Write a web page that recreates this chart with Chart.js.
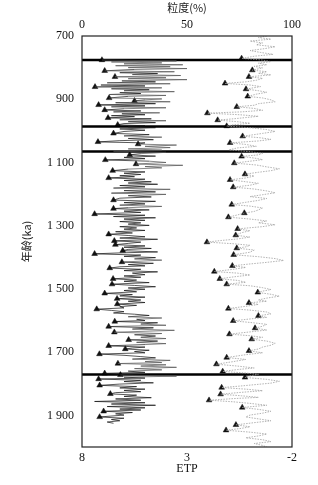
<!DOCTYPE html>
<html>
<head>
<meta charset="utf-8">
<title>粒度 / ETP</title>
<script src="https://cdn.jsdelivr.net/npm/chart.js@4.4.1/dist/chart.umd.min.js"></script>
<style>
  html, body { margin: 0; padding: 0; background: #fff; }
  canvas { display: block; }
</style>
</head>
<body>
<canvas id="grainChart" width="318" height="485"></canvas>
<script>
// Grain size curve (black), age in ka and percent
var blackAge = [
    776, 779, 782, 785, 788, 791, 794, 797, 800, 803,
    806, 810, 813, 816, 819, 822, 825, 829, 832, 835,
    838, 842, 845, 848, 851, 855, 858, 861, 864, 867,
    870, 873, 876, 879, 882, 885, 888, 891, 896, 899,
    902, 905, 908, 911, 914, 918, 921, 924, 927, 930,
    934, 937, 940, 943, 946, 949, 952, 955, 959, 962,
    965, 968, 971, 974, 977, 981, 984, 987, 990, 994,
    998, 1002, 1008, 1012, 1016, 1020, 1024, 1028, 1031, 1035,
    1038, 1042, 1045, 1049, 1053, 1057, 1061, 1064, 1068, 1072,
    1076, 1080, 1084, 1088, 1092, 1096, 1100, 1105, 1109, 1113,
    1117, 1121, 1126, 1130, 1134, 1138, 1142, 1145, 1149, 1153,
    1157, 1161, 1165, 1169, 1173, 1177, 1181, 1185, 1189, 1193,
    1197, 1201, 1205, 1209, 1213, 1219, 1223, 1227, 1231, 1235,
    1239, 1243, 1246, 1250, 1254, 1258, 1263, 1267, 1271, 1275,
    1279, 1283, 1287, 1291, 1295, 1299, 1303, 1307, 1311, 1315,
    1319, 1323, 1327, 1331, 1335, 1339, 1343, 1348, 1352, 1356,
    1360, 1364, 1368, 1372, 1375, 1379, 1383, 1386, 1389, 1393,
    1397, 1401, 1405, 1409, 1415, 1419, 1423, 1427, 1430, 1434,
    1438, 1442, 1446, 1450, 1455, 1459, 1463, 1468, 1472, 1476,
    1480, 1485, 1489, 1493, 1497, 1501, 1505, 1509, 1514, 1518,
    1522, 1526, 1531, 1535, 1539, 1543, 1548, 1552, 1556, 1560,
    1564, 1568, 1572, 1576, 1580, 1584, 1588, 1592, 1596, 1600,
    1603, 1607, 1611, 1615, 1619, 1623, 1627, 1631, 1637, 1641,
    1645, 1649, 1653, 1657, 1661, 1665, 1669, 1673, 1676, 1680,
    1684, 1687, 1690, 1694, 1698, 1702, 1706, 1710, 1714, 1718,
    1722, 1726, 1730, 1733, 1736, 1740, 1744, 1748, 1752, 1756,
    1760, 1764, 1767, 1772, 1776, 1779, 1782, 1785, 1789, 1793,
    1797, 1801, 1805, 1809, 1813, 1817, 1821, 1825, 1828, 1832,
    1836, 1840, 1844, 1848, 1852, 1856, 1860, 1864, 1868, 1872,
    1876, 1880, 1883, 1887, 1891, 1895, 1899, 1905, 1909, 1913,
    1917, 1921, 1925
];
var blackPct = [
    9.5, 45, 14, 38, 20, 48, 16, 42, 22, 50,
    25, 10.8, 44, 18, 36, 24, 47, 15.7, 40, 22,
    50, 19, 35, 12, 42, 9, 30, 6.2, 38, 14,
    32, 20, 44, 18, 28, 13, 40, 22, 12.9, 38,
    30, 25, 42, 16, 35, 7.9, 30, 14, 40, 20,
    10.8, 28, 15, 37, 19, 30, 14, 25, 12.4, 33,
    18, 40, 22, 35, 20, 17, 30, 22, 35, 18,
    30, 20, 15, 32, 20, 38, 22, 34, 18, 7.6,
    30, 26.7, 45, 30, 42, 22, 38, 15, 40, 28,
    22.7, 35, 20, 30, 11.1, 32, 40, 25.7, 48, 30,
    38, 22, 14.6, 30, 20, 28, 18, 25, 12.7, 30,
    20, 33, 22, 36, 18, 30, 15, 42, 20, 35,
    14, 40, 22, 33, 18, 15, 35, 20, 30, 18,
    38, 22, 15, 32, 20, 28, 6, 30, 15, 35,
    20, 30, 18, 28, 22, 32, 18, 26, 20, 30,
    16, 24, 12.7, 22, 30, 18, 36, 15.4, 28, 22,
    15.9, 30, 20, 33, 22, 19.4, 36, 18, 6, 28,
    20, 35, 25, 38, 19, 34, 22, 30, 18, 13.2,
    28, 20, 36, 24, 30, 20, 28, 14.8, 26, 20,
    32, 14.3, 25, 35, 22, 30, 20, 26, 10.8, 24,
    18, 30, 16.7, 28, 22, 30, 16.8, 26, 18, 20,
    7, 14, 20, 15, 25, 32, 22, 38, 26, 30,
    15.6, 36, 28, 40, 12.7, 34, 24, 44, 15.4, 38,
    25, 35, 28, 40, 22.2, 36, 26, 40, 30, 12.7,
    30, 24, 20.6, 32, 25, 30, 8.3, 20, 28, 35,
    24, 42, 30, 38, 17.1, 40, 28, 45, 25, 38,
    22, 30, 10.8, 18.3, 45, 20, 30, 7.9, 28, 20,
    34, 18, 8.4, 26, 18, 30, 20, 28, 16, 13.5,
    26, 20, 33, 16, 28, 6, 30, 14, 35, 12,
    30, 18, 28, 10.3, 24, 16, 20, 8.4, 20, 14,
    18, 12, 15
];

// ETP curve (grey), age in ka and ETP value
var grayAge = [
    700, 705, 710, 716, 722, 728, 734, 740, 746, 752,
    758, 764, 771, 776, 781, 786, 791, 796, 801, 808,
    813, 818, 823, 829, 834, 840, 845, 850, 855, 860,
    868, 873, 878, 884, 891, 896, 902, 908, 914, 919,
    924, 929, 935, 940, 944, 949, 954, 958, 962, 966,
    971, 976, 981, 985, 990, 996, 1002, 1008, 1012, 1017,
    1022, 1027, 1032, 1038, 1043, 1049, 1054, 1060, 1066, 1071,
    1076, 1081, 1086, 1091, 1096, 1102, 1108, 1114, 1120, 1126,
    1131, 1137, 1143, 1149, 1155, 1161, 1166, 1172, 1178, 1184,
    1190, 1196, 1202, 1208, 1214, 1220, 1226, 1233, 1238, 1244,
    1250, 1255, 1260, 1266, 1273, 1279, 1285, 1291, 1297, 1303,
    1310, 1316, 1322, 1330, 1336, 1342, 1347, 1352, 1357, 1362,
    1367, 1371, 1377, 1384, 1392, 1398, 1404, 1410, 1416, 1421,
    1427, 1432, 1438, 1445, 1450, 1456, 1462, 1468, 1473, 1479,
    1485, 1490, 1496, 1502, 1507, 1511, 1517, 1523, 1529, 1535,
    1539, 1544, 1549, 1555, 1562, 1567, 1573, 1579, 1585, 1590,
    1595, 1601, 1606, 1612, 1618, 1624, 1630, 1636, 1643, 1648,
    1653, 1659, 1665, 1672, 1678, 1684, 1690, 1696, 1702, 1708,
    1712, 1717, 1723, 1730, 1738, 1744, 1750, 1755, 1761, 1766,
    1770, 1775, 1780, 1786, 1792, 1798, 1803, 1808, 1812, 1817,
    1822, 1827, 1833, 1838, 1843, 1847, 1852, 1857, 1862, 1868,
    1875, 1881, 1887, 1893, 1899, 1905, 1911, 1917, 1923, 1930,
    1936, 1941, 1947, 1953, 1959, 1965, 1971, 1977, 1983, 1989,
    1995, 2000
];
var grayEtp = [
    -0.8, -0.4, -1.0, 0.0, -0.6, -0.3, -1.2, -0.7, 0.0, -0.5,
    -1.1, -0.2, 0.4, -0.6, -1.0, -0.4, -0.8, -0.2, -0.6, -0.11,
    -0.8, -0.4, -1.0, 0.05, -0.6, -0.3, 0.2, 1.19, 0.0, -0.5,
    0.19, -0.4, -0.8, -0.3, 0.11, -0.6, -1.0, -1.2, -0.4, -0.2,
    0.63, -0.2, -0.6, 0.4, 2.03, 0.5, -0.4, 0.2, 0.8, 1.54,
    0.6, 0.0, 0.8, 1.11, 0.0, -0.8, -1.2, -0.6, -0.2, 0.35,
    -0.5, -1.0, -0.4, 0.95, 0.2, -0.3, 0.6, 1.0, 0.0, -0.6,
    -0.4, 0.4, -0.2, -0.6, 0.0, 0.75, -0.3, -0.8, -1.4, -1.0,
    -0.4, 0.24, -0.2, 0.2, 0.95, 0.2, -0.4, 0.0, 0.8, -0.2,
    -0.8, -1.2, -0.6, 0.0, -0.8, -0.4, 0.2, 0.87, 0.0, -0.6,
    -0.4, -0.2, 0.27, 0.6, 1.03, 0.0, -0.8, -0.4, -1.2, -0.6,
    0.59, 0.0, 0.4, 0.68, 0.0, 0.6, 1.4, 2.05, 0.8, 0.0,
    0.2, 0.63, -0.2, 0.0, 0.78, -0.4, -1.2, -1.6, -0.8, 0.0,
    0.84, 0.2, 0.8, 1.7, 0.6, 0.0, 0.8, 1.44, 0.6, 0.2,
    1.11, 0.0, -0.6, -1.0, -0.6, -0.37, -1.0, -1.4, -0.8, -0.4,
    -0.8, 0.05, -0.4, 0.2, 1.03, 0.0, -0.8, -1.0, -0.4, -0.8,
    0.0, 0.8, 0.0, -0.8, -0.6, -0.24, -0.8, 0.0, 0.98, 0.0,
    -0.6, -0.08, -0.8, -1.2, -1.0, -0.6, -0.4, 0.05, -0.6, 0.2,
    0.6, 1.11, 0.2, 0.8, 1.6, 0.6, -0.2, 0.6, 1.3, 0.2,
    -0.4, 0.0, 0.24, -0.8, -1.4, -1.0, -0.2, 0.6, 1.35, 0.2,
    -0.6, 0.4, 1.4, 0.4, -0.4, 0.8, 1.95, 0.8, 0.0, -0.8,
    0.37, -0.4, -1.0, -0.6, 0.0, 0.2, -0.4, -1.0, -0.2, 0.67,
    0.0, 0.4, 1.14, 0.0, -0.8, -0.4, 0.2, -0.6, -1.0, -0.2,
    -0.6, -0.8
];

// Triangle markers (tie points)
var blackTriAge = [776, 810, 829, 861, 896, 905, 918, 934, 959, 981, 1008, 1035, 1042, 1076, 1092, 1105,
    1126, 1149, 1219, 1246, 1263, 1327, 1348, 1360, 1379, 1389, 1415, 1434, 1468, 1485, 1514, 1531, 1548,
    1564, 1603, 1619, 1637, 1661, 1680, 1690, 1706, 1736, 1767, 1772, 1785, 1805, 1832, 1887, 1905];
var blackTriPct = [9.5, 10.8, 15.7, 6.2, 12.9, 25, 7.9, 10.8, 12.4, 17, 15, 7.6, 26.7, 22.7, 11.1, 25.7,
    14.6, 12.7, 15, 15, 6, 12.7, 15.4, 15.9, 19.4, 6, 19, 13.2, 14.8, 14.3, 10.8, 16.7, 16.8,
    7, 15.6, 12.7, 15.4, 22.2, 12.7, 20.6, 8.3, 17.1, 10.8, 18.3, 7.9, 8.4, 13.5, 10.3, 8.4];
var grayTriAge = [771, 808, 829, 850, 868, 891, 924, 944, 966, 985, 1017, 1038, 1081, 1102, 1137, 1155,
    1178, 1233, 1260, 1273, 1310, 1330, 1352, 1371, 1392, 1427, 1445, 1468, 1485, 1511, 1544, 1562,
    1585, 1601, 1624, 1643, 1659, 1696, 1717, 1738, 1761, 1780, 1812, 1833, 1852, 1875, 1930, 1947];
var grayTriEtp = [0.4, -0.11, 0.05, 1.19, 0.19, 0.11, 0.63, 2.03, 1.54, 1.11, 0.35, 0.95, 0.4, 0.75, 0.24, 0.95,
    0.8, 0.87, 0.27, 1.03, 0.59, 0.68, 2.05, 0.63, 0.78, 0.84, 1.7, 1.44, 1.11, -0.37, 0.05, 1.03,
    -0.4, 0.8, -0.24, 0.98, -0.08, 0.05, 1.11, 1.6, 1.3, 0.24, 1.35, 1.4, 1.95, 0.37, 0.67, 1.14];

// Thick horizontal boundaries (ka)
var boundaryAges = [776, 986, 1065, 1771];

// Tick labels
var ageTicks = [700, 900, 1100, 1300, 1500, 1700, 1900];
var pctTicks = [0, 50, 100];
var etpTicks = [8, 3, -2];

var serif = 'Liberation Serif';
var cjk = 'Noto Sans CJK SC';

function toPoints(ages, vals) {
    return ages.map(function(a, i) { return { x: vals[i], y: a }; });
}

function setTicks(list) {
    return function(scale) {
        scale.ticks = list.map(function(v) { return { value: v }; });
    };
}

// Frame around the plot area
var framePlugin = {
    id: 'frame',
    afterDatasetsDraw: function(chart) {
        var a = chart.chartArea;
        var ctx = chart.ctx;
        ctx.save();
        ctx.strokeStyle = '#222';
        ctx.lineWidth = 1.2;
        ctx.strokeRect(a.left, a.top, a.right - a.left, a.bottom - a.top);
        ctx.restore();
    }
};

var datasets = [];

datasets.push({
    label: 'ETP',
    data: toPoints(grayAge, grayEtp),
    xAxisID: 'x2',
    showLine: true,
    pointRadius: 0,
    borderColor: '#a0a0a0',
    borderWidth: 0.8,
    borderDash: [1.5, 1.2]
});

// long excursions to the right look fainter in the scan
datasets.push({
    label: '粒度',
    data: toPoints(blackAge, blackPct),
    xAxisID: 'x',
    showLine: true,
    pointRadius: 0,
    borderColor: '#111',
    borderWidth: 0.7,
    segment: {
        borderColor: function(c) {
            return Math.max(c.p0.parsed.x, c.p1.parsed.x) > 36 ? '#555' : undefined;
        }
    }
});

boundaryAges.forEach(function(a) {
    datasets.push({
        label: 'boundary',
        data: [{ x: 0, y: a }, { x: 100, y: a }],
        xAxisID: 'x',
        showLine: true,
        pointRadius: 0,
        borderColor: '#000',
        borderWidth: 2.5
    });
});

datasets.push({
    label: 'tri1',
    data: toPoints(blackTriAge, blackTriPct),
    xAxisID: 'x',
    pointStyle: 'triangle',
    pointRadius: 3.3,
    backgroundColor: '#111',
    borderColor: '#111',
    borderWidth: 0.5
});

datasets.push({
    label: 'tri2',
    data: toPoints(grayTriAge, grayTriEtp),
    xAxisID: 'x2',
    pointStyle: 'triangle',
    pointRadius: 3.3,
    backgroundColor: '#111',
    borderColor: '#111',
    borderWidth: 0.5
});

var ctx = document.getElementById('grainChart').getContext('2d');
var grainChart = new Chart(ctx, {
    type: 'scatter',
    data: { datasets: datasets },
    plugins: [framePlugin],
    options: {
        responsive: false,
        animation: false,
        layout: { padding: { left: 16, right: 26, top: 0, bottom: 0 } },
        plugins: {
            legend: { display: false },
            tooltip: { enabled: false }
        },
        scales: {
            y: {
                type: 'linear',
                position: 'left',
                min: 700,
                max: 2000,
                reverse: true,
                afterBuildTicks: setTicks(ageTicks),
                afterFit: function(scale) { scale.width = 66; },
                grid: { display: false, drawTicks: false },
                border: { display: false },
                ticks: {
                    color: '#111',
                    padding: 8,
                    font: { family: serif, size: 12 },
                    callback: function(v) {
                        return v >= 1000 ? String(v).replace(/^(\d)(\d{3})$/, '$1 $2') : String(v);
                    }
                },
                title: {
                    display: true,
                    text: '年龄(ka)',
                    color: '#222',
                    font: { family: cjk, size: 11 },
                    padding: { top: 4, bottom: 0 }
                }
            },
            x: {
                type: 'linear',
                position: 'top',
                min: 0,
                max: 100,
                afterBuildTicks: setTicks(pctTicks),
                afterFit: function(scale) { scale.height = 36; },
                grid: { display: false, drawTicks: false },
                border: { display: false },
                ticks: {
                    color: '#111',
                    padding: 4,
                    maxRotation: 0,
                    font: { family: serif, size: 12 }
                },
                title: {
                    display: true,
                    text: '粒度(%)',
                    color: '#222',
                    font: { family: cjk, size: 11 },
                    padding: { top: 1, bottom: 0 }
                }
            },
            x2: {
                type: 'linear',
                position: 'bottom',
                min: -2,
                max: 8,
                reverse: true,
                afterBuildTicks: setTicks(etpTicks),
                afterFit: function(scale) { scale.height = 38; },
                grid: { display: false, drawTicks: false },
                border: { display: false },
                ticks: {
                    color: '#111',
                    padding: 4,
                    maxRotation: 0,
                    font: { family: serif, size: 12 }
                },
                title: {
                    display: true,
                    text: 'ETP',
                    color: '#111',
                    font: { family: serif, size: 12 },
                    padding: { top: 0, bottom: 9 }
                }
            }
        }
    }
});
</script>
</body>
</html>
